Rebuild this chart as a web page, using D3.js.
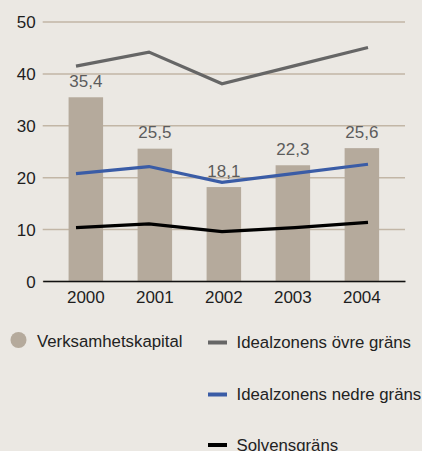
<!DOCTYPE html>
<html><head><meta charset="utf-8">
<script src="https://cdn.jsdelivr.net/npm/d3@7"></script>
<style>html,body{margin:0;padding:0;background:#ebe8e3;}svg{display:block;}</style>
</head><body>
<script>
const years = ["2000","2001","2002","2003","2004"];
const kapital = [35.4, 25.5, 18.1, 22.3, 25.6];
const ovre = [41.4, 44.1, 38.0, 41.5, 45.0];
const nedre = [20.7, 22.05, 19.0, 20.75, 22.5];
const solvens = [10.3, 11.0, 9.5, 10.3, 11.3];
const yTicks = [0, 10, 20, 30, 40, 50];
const labels = ["35,4", "25,5", "18,1", "22,3", "25,6"];
const legendBar = "Verksamhetskapital";
const lineSeries = [
  {name: "Idealzonens övre gräns", values: ovre, color: "#666666"},
  {name: "Idealzonens nedre gräns", values: nedre, color: "#3a5ca6"},
  {name: "Solvensgräns", values: solvens, color: "#000000"}
];

const W = 422, H = 451;
const svg = d3.select("body").append("svg").attr("width", W).attr("height", H);
svg.append("rect").attr("width", W).attr("height", H).attr("fill", "#ebe8e3");

const font = "'Liberation Sans', Arial, Helvetica, sans-serif";
const y = d3.scaleLinear().domain([0, 50]).range([281, 21.5]);
const x = d3.scaleBand().domain(years).range([42.7, 405]).paddingInner(0.5).paddingOuter(0.375);
const xl = d3.scalePoint().domain(years).range([76, 368]);

// gridlines
const yAxis = d3.axisLeft(y).tickValues(yTicks).tickSize(-(405 - 42.7)).tickPadding(7).tickFormat(d3.format("d"));
const gy = svg.append("g").attr("transform", "translate(42.7,0)").call(yAxis);
gy.select(".domain").remove();
gy.selectAll(".tick line").attr("stroke", "#c2b6a6").attr("stroke-width", 1.5);
gy.selectAll(".tick text").attr("font-family", font).attr("font-size", 17).attr("fill", "#1e1e1e").attr("dy", "0.36em");

// bars
svg.selectAll("rect.bar").data(kapital).join("rect").attr("class", "bar")
  .attr("x", (d, i) => x(years[i])).attr("width", x.bandwidth())
  .attr("y", d => y(d)).attr("height", d => y(0) - y(d))
  .attr("fill", "#b5aa9c");

// baseline axis
const xAxis = d3.axisBottom(x).tickSize(0).tickPadding(10);
const gx = svg.append("g").attr("transform", `translate(0,${y(0)})`).call(xAxis);
gx.select(".domain").attr("stroke", "#111").attr("stroke-width", 1.5);
gx.selectAll(".tick text").attr("font-family", font).attr("font-size", 17).attr("fill", "#1e1e1e");

// value labels
svg.selectAll("text.val").data(kapital).join("text").attr("class", "val")
  .attr("x", (d, i) => x(years[i]) + x.bandwidth() / 2)
  .attr("y", d => y(d) - 10.5)
  .attr("text-anchor", "middle").attr("font-family", font).attr("font-size", 17)
  .attr("fill", "#5c5c5c").text((d, i) => labels[i]);

// lines
const line = d3.line().x((d, i) => xl(years[i])).y(d => y(d));
lineSeries.forEach(s => {
  svg.append("path").datum(s.values).attr("d", line).attr("fill", "none")
    .attr("stroke", s.color).attr("stroke-width", 3.2).attr("stroke-linejoin", "miter");
});

// legend
svg.append("circle").attr("cx", 18.5).attr("cy", 340).attr("r", 8).attr("fill", "#b5aa9c");
svg.append("text").attr("x", 37).attr("y", 346.5).attr("font-family", font).attr("font-size", 16.8)
  .attr("fill", "#222").text(legendBar);
const legY = [342.5, 394.5, 445];
lineSeries.forEach((s, i) => {
  svg.append("line").attr("x1", 208).attr("x2", 227).attr("y1", legY[i]).attr("y2", legY[i])
    .attr("stroke", s.color).attr("stroke-width", 4);
  svg.append("text").attr("x", 236.5).attr("y", legY[i] + 5.5).attr("font-family", font).attr("font-size", 16.8)
    .attr("fill", "#222").text(s.name);
});
</script>
</body></html>
